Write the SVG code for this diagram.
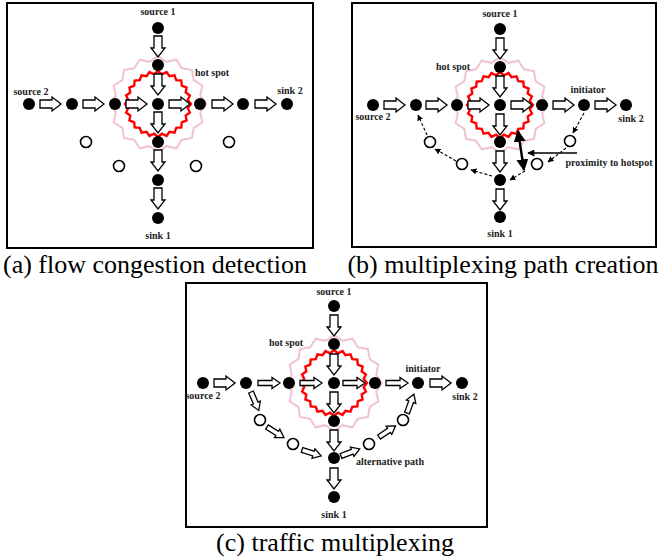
<svg xmlns="http://www.w3.org/2000/svg" xmlns:xlink="http://www.w3.org/1999/xlink" width="662" height="558" viewBox="0 0 662 558">
<style>
.frame{fill:none;stroke:#000;stroke-width:2}
.n{fill:#000}
.e{fill:#fff;stroke:#000;stroke-width:1.6}
.ba{fill:#fff;stroke:#000;stroke-width:1.3;stroke-linejoin:miter}
.lbl{font-family:"Liberation Serif","Times New Roman",serif;font-weight:bold;font-size:10px;fill:#222;text-anchor:middle}
.cap{font-family:"Liberation Serif","Times New Roman",serif;font-size:26px;fill:#000;text-anchor:middle}
.red{fill:none;stroke:#f00;stroke-width:2.4;stroke-linejoin:miter}
.pink{fill:none;stroke:#efc3d3;stroke-width:2}
.dash{fill:none;stroke:#000;stroke-width:1.1;stroke-dasharray:3 2}
</style>
<defs>
<path id="bigR" d="M0,-4 H12 V-7 L21,0 L12,7 V4 H0 Z"/>
<path id="thinR" d="M0,-2.5 H14 V-5.5 L22,0 L14,5.5 V2.5 H0 Z"/>
<path id="smallR" d="M0,-2.5 H12 V-5 L20,0 L12,5 V2.5 H0 Z"/>
<polygon id="redStar" points="33,0 29.74,3.92 31.88,8.54 27.72,11.48 28.58,16.5 23.8,18.26 23.33,23.33 18.26,23.8 16.5,28.58 11.48,27.72 8.54,31.88 3.92,29.74 0,33 -3.92,29.74 -8.54,31.88 -11.48,27.72 -16.5,28.58 -18.26,23.8 -23.33,23.33 -23.8,18.26 -28.58,16.5 -27.72,11.48 -31.88,8.54 -29.74,3.92 -33,0 -29.74,-3.92 -31.88,-8.54 -27.72,-11.48 -28.58,-16.5 -23.8,-18.26 -23.33,-23.33 -18.26,-23.8 -16.5,-28.58 -11.48,-27.72 -8.54,-31.88 -3.92,-29.74 0,-33 3.92,-29.74 8.54,-31.88 11.48,-27.72 16.5,-28.58 18.26,-23.8 23.33,-23.33 23.8,-18.26 28.58,-16.5 27.72,-11.48 31.88,-8.54 29.74,-3.92"/>
<polygon id="pinkStar" points="48,0 42.17,8.39 44.35,18.37 35.75,23.89 33.94,33.94 23.89,35.75 18.37,44.35 8.39,42.17 0,48 -8.39,42.17 -18.37,44.35 -23.89,35.75 -33.94,33.94 -35.75,23.89 -44.35,18.37 -42.17,8.39 -48,0 -42.17,-8.39 -44.35,-18.37 -35.75,-23.89 -33.94,-33.94 -23.89,-35.75 -18.37,-44.35 -8.39,-42.17 0,-48 8.39,-42.17 18.37,-44.35 23.89,-35.75 33.94,-33.94 35.75,-23.89 44.35,-18.37 42.17,-8.39"/>
<marker id="dh" viewBox="0 0 10 10" refX="9" refY="5" markerWidth="6" markerHeight="6" markerUnits="userSpaceOnUse" orient="auto"><path d="M0,0 L10,5 L0,10 Z" fill="#000"/></marker>
<marker id="th" viewBox="0 0 10 10" refX="9" refY="5" markerWidth="5" markerHeight="5" orient="auto-start-reverse"><path d="M0,0 L10,5 L0,10 Z" fill="#000"/></marker>
<marker id="lh" viewBox="0 0 10 10" refX="9" refY="5" markerWidth="8" markerHeight="7" markerUnits="userSpaceOnUse" orient="auto"><path d="M0,0 L10,5 L0,10 Z" fill="#000"/></marker>
</defs>

<!-- Panel (a) -->
<g id="panel-a">
<rect class="frame" x="7" y="3" width="306" height="245"/>
<g id="a-hotspot">
<use href="#pinkStar" class="pink" transform="translate(158,104)"/>
<use href="#redStar" class="red" transform="translate(158,104)"/>
</g>
<g id="a-connectors">
<use href="#bigR" class="ba" transform="translate(158,36) rotate(90)"/>
<use href="#bigR" class="ba" transform="translate(158,74) rotate(90)"/>
<use href="#bigR" class="ba" transform="translate(158,112) rotate(90)"/>
<use href="#bigR" class="ba" transform="translate(158,150) rotate(90)"/>
<use href="#bigR" class="ba" transform="translate(158,188) rotate(90)"/>
<use href="#bigR" class="ba" transform="translate(40,104)"/>
<use href="#bigR" class="ba" transform="translate(83,104)"/>
<use href="#bigR" class="ba" transform="translate(126,104)"/>
<use href="#bigR" class="ba" transform="translate(169,104)"/>
<use href="#bigR" class="ba" transform="translate(212,104)"/>
<use href="#bigR" class="ba" transform="translate(255,104)"/>
</g>
<g id="a-src1"><circle class="n" cx="158" cy="28" r="6"/><text class="lbl" x="158" y="15">source 1</text></g>
<g id="a-v1"><circle class="n" cx="158" cy="65" r="6"/></g>
<g id="a-center"><circle class="n" cx="158" cy="104" r="6"/></g>
<g id="a-v3"><circle class="n" cx="158" cy="142" r="6"/></g>
<g id="a-v4"><circle class="n" cx="158" cy="180" r="6"/></g>
<g id="a-sink1"><circle class="n" cx="158" cy="218" r="6"/><text class="lbl" x="158" y="239">sink 1</text></g>
<g id="a-src2"><circle class="n" cx="29" cy="104" r="6"/><text class="lbl" x="31" y="95">source 2</text></g>
<g id="a-h1"><circle class="n" cx="72" cy="104" r="6"/></g>
<g id="a-h2"><circle class="n" cx="115" cy="104" r="6"/></g>
<g id="a-h4"><circle class="n" cx="200" cy="104" r="6"/></g>
<g id="a-h5"><circle class="n" cx="243" cy="104" r="6"/></g>
<g id="a-sink2"><circle class="n" cx="287" cy="104" r="6"/><text class="lbl" x="290" y="94">sink 2</text></g>
<g id="a-e1"><circle class="e" cx="86" cy="142" r="5.5"/></g>
<g id="a-e2"><circle class="e" cx="119" cy="166" r="5.5"/></g>
<g id="a-e3"><circle class="e" cx="196" cy="166" r="5.5"/></g>
<g id="a-e4"><circle class="e" cx="229" cy="142" r="5.5"/></g>
<text class="lbl" x="212" y="76">hot spot</text>
<text class="cap" x="155" y="273">(a) flow congestion detection</text>
</g>

<!-- Panel (b) -->
<g id="panel-b">
<rect class="frame" x="352" y="3" width="304" height="244"/>
<g id="b-hotspot">
<use href="#pinkStar" class="pink" transform="translate(500,105)"/>
<use href="#redStar" class="red" transform="translate(500,105)"/>
</g>
<g id="b-connectors">
<use href="#bigR" class="ba" transform="translate(500,38) rotate(90)"/>
<use href="#bigR" class="ba" transform="translate(500,76) rotate(90)"/>
<use href="#bigR" class="ba" transform="translate(500,114) rotate(90)"/>
<use href="#bigR" class="ba" transform="translate(500,151) rotate(90)"/>
<use href="#bigR" class="ba" transform="translate(500,189) rotate(90)"/>
<use href="#bigR" class="ba" transform="translate(384,105)"/>
<use href="#bigR" class="ba" transform="translate(426,105)"/>
<use href="#bigR" class="ba" transform="translate(468,105)"/>
<use href="#bigR" class="ba" transform="translate(511,105)"/>
<use href="#bigR" class="ba" transform="translate(553,105)"/>
<use href="#bigR" class="ba" transform="translate(595,105)"/>
<line class="dash" x1="584" y1="113" x2="573" y2="133" marker-end="url(#dh)"/>
<line class="dash" x1="566" y1="148" x2="548" y2="162" marker-end="url(#dh)"/>
<line class="dash" x1="525" y1="171" x2="510" y2="180" marker-end="url(#dh)"/>
<line class="dash" x1="492" y1="176" x2="471" y2="170" marker-end="url(#dh)"/>
<line class="dash" x1="456" y1="161" x2="435" y2="149" marker-end="url(#dh)"/>
<line class="dash" x1="427" y1="135" x2="418" y2="115" marker-end="url(#dh)"/>
<line x1="518" y1="131" x2="524" y2="170" stroke="#000" stroke-width="2.4" marker-start="url(#th)" marker-end="url(#th)"/>
<line x1="577" y1="153" x2="528" y2="153" stroke="#000" stroke-width="1.4" marker-end="url(#lh)"/>
</g>
<g id="b-src1"><circle class="n" cx="500" cy="29" r="6"/><text class="lbl" x="500" y="17">source 1</text></g>
<g id="b-v1"><circle class="n" cx="500" cy="67" r="6"/></g>
<g id="b-center"><circle class="n" cx="500" cy="105" r="6"/></g>
<g id="b-v3"><circle class="n" cx="500" cy="142" r="6"/></g>
<g id="b-v4"><circle class="n" cx="500" cy="180" r="6"/></g>
<g id="b-sink1"><circle class="n" cx="500" cy="217" r="6"/><text class="lbl" x="500" y="237">sink 1</text></g>
<g id="b-src2"><circle class="n" cx="373" cy="105" r="6"/><text class="lbl" x="373" y="120">source 2</text></g>
<g id="b-h1"><circle class="n" cx="416" cy="105" r="6"/></g>
<g id="b-h2"><circle class="n" cx="457" cy="105" r="6"/></g>
<g id="b-h4"><circle class="n" cx="542" cy="105" r="6"/></g>
<g id="b-initiator"><circle class="n" cx="584" cy="105" r="6"/><text class="lbl" x="588" y="93">initiator</text></g>
<g id="b-sink2"><circle class="n" cx="626" cy="105" r="6"/><text class="lbl" x="631" y="122">sink 2</text></g>
<g id="b-e1"><circle class="e" cx="430" cy="142" r="5.5"/></g>
<g id="b-e2"><circle class="e" cx="462" cy="164" r="5.5"/></g>
<g id="b-e3"><circle class="e" cx="537" cy="164" r="5.5"/></g>
<g id="b-e4"><circle class="e" cx="570" cy="141" r="5.5"/></g>
<text class="lbl" x="453" y="70">hot spot</text>
<text class="lbl" x="609" y="166">proximity to hotspot</text>
<text class="cap" x="503" y="273">(b) multiplexing path creation</text>
</g>

<!-- Panel (c) -->
<g id="panel-c">
<rect class="frame" x="186" y="283" width="301" height="244"/>
<g id="c-hotspot">
<use href="#pinkStar" class="pink" transform="translate(334,383)"/>
<use href="#redStar" class="red" transform="translate(334,383)"/>
</g>
<g id="c-connectors">
<use href="#bigR" class="ba" transform="translate(334,315) rotate(90)"/>
<use href="#bigR" class="ba" transform="translate(334,354) rotate(90)"/>
<use href="#bigR" class="ba" transform="translate(334,392) rotate(90)"/>
<use href="#bigR" class="ba" transform="translate(334,430) rotate(90)"/>
<use href="#bigR" class="ba" transform="translate(334,468) rotate(90)"/>
<use href="#bigR" class="ba" transform="translate(214,383)"/>
<use href="#thinR" class="ba" transform="translate(258,383)"/>
<use href="#thinR" class="ba" transform="translate(300,383)"/>
<use href="#thinR" class="ba" transform="translate(343,383)"/>
<use href="#thinR" class="ba" transform="translate(386,383)"/>
<use href="#bigR" class="ba" transform="translate(430,383)"/>
<use href="#smallR" class="ba" transform="translate(251,392) rotate(67)"/>
<use href="#smallR" class="ba" transform="translate(267,427) rotate(32)"/>
<use href="#smallR" class="ba" transform="translate(302,450) rotate(17)"/>
<use href="#smallR" class="ba" transform="translate(341,456) rotate(-21)"/>
<use href="#smallR" class="ba" transform="translate(379,437) rotate(-34)"/>
<use href="#smallR" class="ba" transform="translate(407,413) rotate(-70)"/>
</g>
<g id="c-src1"><circle class="n" cx="334" cy="306" r="6"/><text class="lbl" x="334" y="295">source 1</text></g>
<g id="c-v1"><circle class="n" cx="334" cy="344" r="6"/></g>
<g id="c-center"><circle class="n" cx="334" cy="383" r="6"/></g>
<g id="c-v3"><circle class="n" cx="334" cy="421" r="6"/></g>
<g id="c-v4"><circle class="n" cx="334" cy="458" r="6"/></g>
<g id="c-sink1"><circle class="n" cx="334" cy="497" r="6"/><text class="lbl" x="334" y="518">sink 1</text></g>
<g id="c-src2"><circle class="n" cx="203" cy="383" r="6"/><text class="lbl" x="203" y="399">source 2</text></g>
<g id="c-h1"><circle class="n" cx="246" cy="383" r="6"/></g>
<g id="c-h2"><circle class="n" cx="289" cy="383" r="6"/></g>
<g id="c-h4"><circle class="n" cx="375" cy="383" r="6"/></g>
<g id="c-initiator"><circle class="n" cx="418" cy="383" r="6"/><text class="lbl" x="423" y="372">initiator</text></g>
<g id="c-sink2"><circle class="n" cx="462" cy="383" r="6"/><text class="lbl" x="465" y="400">sink 2</text></g>
<g id="c-e1"><circle class="e" cx="260" cy="420" r="5.5"/></g>
<g id="c-e2"><circle class="e" cx="293" cy="444" r="5.5"/></g>
<g id="c-e3"><circle class="e" cx="369" cy="444" r="5.5"/></g>
<g id="c-e4"><circle class="e" cx="403" cy="420" r="5.5"/></g>
<text class="lbl" x="286" y="346">hot spot</text>
<text class="lbl" x="390" y="465">alternative path</text>
<text class="cap" x="335" y="551">(c) traffic multiplexing</text>
</g>
</svg>
